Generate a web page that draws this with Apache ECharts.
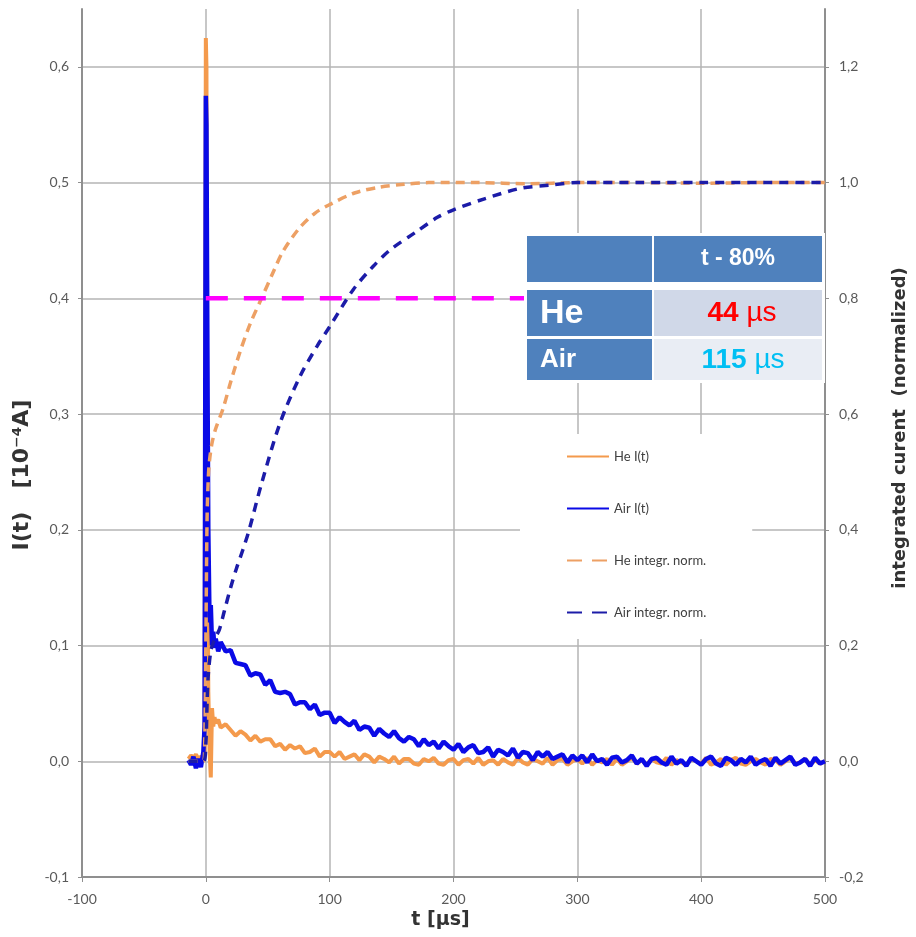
<!DOCTYPE html>
<html>
<head>
<meta charset="utf-8">
<script src="https://cdn.jsdelivr.net/npm/echarts@6/dist/echarts.min.js"></script>
<style>html,body{margin:0;padding:0;background:#fff}#c{width:916px;height:937px}</style>
</head>
<body>
<div id="c"></div>
<script>
// ---- data ----
const tCur = [-14,-12,-10,-8,-6,-4,-2,-1,0,0.5,1,1.5,2,3,4,5,6,7,8,10,
  12,16,20,24,28,32,36,40,44,48,
  52,56,60,64,68,72,76,80,84,88,
  92,96,100,104,108,112,116,120,124,128,
  132,136,140,144,148,152,156,160,164,168,
  172,176,180,184,188,192,196,200,204,208,
  212,216,220,224,228,232,236,240,244,248,
  252,256,260,264,268,272,276,280,284,288,
  292,296,300,304,308,312,316,320,324,328,
  332,336,340,344,348,352,356,360,364,368,
  372,376,380,384,388,392,396,400,404,408,
  412,416,420,424,428,432,436,440,444,448,
  452,456,460,464,468,472,476,480,484,488,
  492,496,500];
const heCur = [0.002,0.005,0.003,0.006,0.002,0.004,0.003,0.008,0.625,0.6,0.35,0.15,0.06,0.01,-0.014,0.046,0.030,0.038,0.033,0.036,
  0.029,0.032,0.027,0.022,0.026,0.023,0.018,0.022,0.017,0.019,
  0.019,0.013,0.015,0.010,0.014,0.011,0.013,0.007,0.008,0.011,
  0.004,0.008,0.008,0.004,0.008,0.002,0.004,0.006,0.001,0.006,
  0.004,-0.001,0.004,0.002,-0.001,0.004,-0.002,0.002,0.002,-0.002,
  -0.003,0.002,0.000,0.003,-0.002,-0.003,0.001,0.002,-0.003,0.001,
  0.002,-0.002,0.003,-0.003,0.000,0.001,-0.003,0.002,-0.001,-0.003,
  0.003,-0.001,-0.003,0.002,0.000,-0.002,0.003,-0.003,0.001,0.002,
  -0.003,0.000,0.002,-0.002,0.003,-0.003,0.001,-0.001,0.002,-0.003,
  0.002,-0.003,0.000,0.003,-0.002,0.001,-0.003,0.002,-0.001,-0.002,
  0.003,-0.003,0.001,-0.001,-0.003,0.002,0.000,-0.002,0.003,-0.003,
  -0.001,0.002,-0.003,0.001,0.003,-0.002,-0.003,0.000,0.002,-0.001,
  -0.003,0.002,0.001,-0.003,0.000,0.003,-0.002,-0.001,0.002,-0.003,
  0.001,-0.002,0.000];
const airCur = [0.001,-0.003,0.004,-0.006,0.002,-0.005,0.008,0.030,0.575,0.55,0.42,0.30,0.20,0.12,0.135,0.100,0.112,0.098,0.106,0.095,
  0.103,0.095,0.096,0.085,0.084,0.083,0.074,0.076,0.075,0.066,
  0.070,0.060,0.059,0.060,0.058,0.049,0.051,0.051,0.045,0.049,
  0.040,0.042,0.042,0.033,0.038,0.034,0.031,0.035,0.027,0.030,
  0.029,0.022,0.028,0.024,0.021,0.026,0.020,0.017,0.021,0.019,
  0.013,0.019,0.014,0.017,0.011,0.017,0.013,0.010,0.015,0.008,
  0.012,0.014,0.007,0.008,0.012,0.004,0.010,0.008,0.005,0.011,
  0.003,0.008,0.007,0.001,0.008,0.004,0.008,0.002,0.004,0.006,
  -0.001,0.005,0.001,0.005,-0.001,0.006,0.000,0.002,-0.003,0.003,
  0.004,-0.001,0.001,0.005,-0.002,0.002,-0.004,0.002,0.003,-0.001,
  -0.003,0.004,-0.002,0.001,-0.004,0.003,0.000,-0.003,0.002,0.004,
  -0.002,-0.004,0.003,0.001,-0.003,0.002,-0.001,0.004,-0.003,0.000,
  0.002,-0.004,0.003,-0.002,0.001,0.004,-0.003,-0.001,0.002,-0.004,
  0.003,-0.002,0.000];
const tHeInt = [-14,-2,-1,0,1,2,3,5,8,14,20,28,36,45,55,62,75,88,100,120,140,160,180,220,260,300,350,400,450,500];
const heInt  = [0,0,0.02,0.2,0.42,0.49,0.52,0.55,0.575,0.61,0.655,0.71,0.757,0.80,0.848,0.88,0.92,0.947,0.962,0.982,0.992,0.997,1.0,1.0,0.998,1.0,1.0,0.999,1.0,1.0];
const tAirInt = [-14,-2,0,1,2,4,6,8,11,15,20,25,30,35,45,60,76,90,100,119,135,149,170,187,200,225,254,280,300,350,400,450,500];
const airInt  = [0,0,0.03,0.1,0.15,0.19,0.205,0.215,0.228,0.26,0.30,0.335,0.366,0.40,0.48,0.585,0.665,0.718,0.751,0.815,0.855,0.884,0.915,0.94,0.953,0.972,0.99,0.996,1.0,1.0,1.0,1.0,1.0];
const tMark = [0, 258];
const vMark = [0.4, 0.4];
const leftTicks = [-0.1,0,0.1,0.2,0.3,0.4,0.5,0.6];
const rightTicks = [-0.2,0,0.2,0.4,0.6,0.8,1.0,1.2];
const xTicks = [-100,0,100,200,300,400,500];
const seriesNames = ['He I(t)','Air I(t)','He integr. norm.','Air integr. norm.'];
const tableHead = 't - 80%';
const tableRows = [['He','44','µs'],['Air','115','µs']];

// ---- chart ----
const pair = (ts, vs) => ts.map((t, i) => [t, vs[i]]);
const comma = v => (Math.round(v * 10) / 10).toFixed(1).replace('.', ',');
const axisGray = '#8f8f8f';
const gridGray = '#b4b4b4';
const labelStyle = {color: '#5a5a5a', fontSize: 14, fontFamily: 'Lato'};
const nameFont = {fontWeight: 'bold', color: '#333', fontFamily: 'DejaVu Sans'};

const chart = echarts.init(document.getElementById('c'));
chart.setOption({
  animation: false,
  backgroundColor: '#fff',
  grid: {left: 82, right: 91, top: 9, bottom: 60, containLabel: false, outerBoundsMode: 'none'},
  xAxis: {
    type: 'value', min: -100, max: 500, interval: 100,
    name: 't [µs]', nameLocation: 'middle', nameGap: 30,
    nameTextStyle: Object.assign({fontSize: 19, padding: [0, 26, 0, 0]}, nameFont),
    axisLine: {show: true, onZero: false, lineStyle: {color: axisGray, width: 2}},
    axisTick: {show: true, length: 5, lineStyle: {color: axisGray}},
    axisLabel: Object.assign({margin: 15, customValues: xTicks}, labelStyle),
    splitLine: {show: true, lineStyle: {color: gridGray, width: 1.5}}
  },
  yAxis: [{
    type: 'value', min: -0.1, max: 0.65, interval: 0.1, position: 'left',
    name: 'I(t)   [10⁻⁴A]', nameLocation: 'middle', nameGap: 42,
    nameTextStyle: Object.assign({fontSize: 22, padding: [0, 64, 0, 0]}, nameFont),
    axisLine: {show: true, onZero: false, lineStyle: {color: axisGray, width: 2}},
    axisTick: {show: true, length: 4, customValues: leftTicks, lineStyle: {color: axisGray}},
    axisLabel: Object.assign({margin: 13, customValues: leftTicks, formatter: comma}, labelStyle),
    splitLine: {show: true, lineStyle: {color: gridGray, width: 1.5}}
  }, {
    type: 'value', min: -0.2, max: 1.3, interval: 0.2, position: 'right',
    name: 'integrated curent  (normalized)', nameLocation: 'middle', nameGap: 66,
    nameTextStyle: Object.assign({fontSize: 18, padding: [0, 0, 0, 30]}, nameFont),
    axisLine: {show: true, onZero: false, lineStyle: {color: axisGray, width: 2}},
    axisTick: {show: true, length: 4, customValues: rightTicks, lineStyle: {color: axisGray}},
    axisLabel: Object.assign({margin: 14, customValues: rightTicks, formatter: comma}, labelStyle),
    splitLine: {show: false}
  }],
  legend: {
    orient: 'vertical', left: 520, top: 434,
    padding: [16, 46, 20, 46], itemGap: 39, itemWidth: 42, itemHeight: 14,
    backgroundColor: '#fff',
    itemStyle: {opacity: 0},
    textStyle: {color: '#404040', fontSize: 13, fontFamily: 'Lato'},
    data: [
      {name: seriesNames[0]},
      {name: seriesNames[1]},
      {name: seriesNames[2], lineStyle: {type: [15, 10]}},
      {name: seriesNames[3], lineStyle: {type: [15, 10]}}
    ]
  },
  series: [{
    name: seriesNames[0], type: 'line', yAxisIndex: 0, symbol: 'none',
    data: pair(tCur, heCur),
    lineStyle: {color: '#F49A4C', width: 4}, itemStyle: {color: '#F49A4C'}
  }, {
    name: seriesNames[1], type: 'line', yAxisIndex: 0, symbol: 'none',
    data: pair(tCur, airCur),
    lineStyle: {color: '#0A0AE6', width: 4.5}, itemStyle: {color: '#0A0AE6'}
  }, {
    name: seriesNames[2], type: 'line', yAxisIndex: 1, symbol: 'none', smooth: 0.3,
    data: pair(tHeInt, heInt),
    lineStyle: {color: '#EDA064', width: 3.5, type: [9, 6]}, itemStyle: {color: '#EDA064'}
  }, {
    name: seriesNames[3], type: 'line', yAxisIndex: 1, symbol: 'none', smooth: 0.3,
    data: pair(tAirInt, airInt),
    lineStyle: {color: '#1C1CA8', width: 3.5, type: [9, 7]}, itemStyle: {color: '#1C1CA8'}
  }, {
    name: '80%', type: 'line', yAxisIndex: 0, symbol: 'none',
    data: pair(tMark, vMark),
    lineStyle: {color: '#FF00FF', width: 4.5, type: [22, 16]}
  }],
  graphic: [
    {type: 'rect', z: 100, shape: {x: 524, y: 233, width: 301, height: 150}, style: {fill: '#fff'}},
    {type: 'rect', z: 101, shape: {x: 527, y: 236, width: 125, height: 46}, style: {fill: '#4F81BD'}},
    {type: 'rect', z: 101, shape: {x: 654, y: 236, width: 168, height: 46}, style: {fill: '#4F81BD'}},
    {type: 'rect', z: 101, shape: {x: 527, y: 290, width: 125, height: 46}, style: {fill: '#4F81BD'}},
    {type: 'rect', z: 101, shape: {x: 654, y: 290, width: 168, height: 46}, style: {fill: '#D0D8E8'}},
    {type: 'rect', z: 101, shape: {x: 527, y: 339, width: 125, height: 41}, style: {fill: '#4F81BD'}},
    {type: 'rect', z: 101, shape: {x: 654, y: 339, width: 168, height: 41}, style: {fill: '#E9EDF4'}},
    {type: 'text', z: 102, style: {x: 738, y: 259, text: tableHead, fill: '#fff', font: 'bold 23px "Liberation Sans"', textAlign: 'center', textVerticalAlign: 'middle'}},
    {type: 'text', z: 102, style: {x: 540, y: 314, text: tableRows[0][0], fill: '#fff', font: 'bold 34px "Liberation Sans"', textAlign: 'left', textVerticalAlign: 'middle'}},
    {type: 'text', z: 102, style: {x: 540, y: 360, text: tableRows[1][0], fill: '#fff', font: 'bold 26px "Liberation Sans"', textAlign: 'left', textVerticalAlign: 'middle'}},
    {type: 'text', z: 102, style: {x: 742, y: 313, text: '{a|' + tableRows[0][1] + '}{b| ' + tableRows[0][2] + '}', textAlign: 'center', textVerticalAlign: 'middle',
      rich: {a: {fill: '#FF0000', font: 'bold 28px "Liberation Sans"'}, b: {fill: '#FF0000', font: '28px "Liberation Sans"'}}}},
    {type: 'text', z: 102, style: {x: 743, y: 360, text: '{a|' + tableRows[1][1] + '}{b| ' + tableRows[1][2] + '}', textAlign: 'center', textVerticalAlign: 'middle',
      rich: {a: {fill: '#00BFF3', font: 'bold 28px "Liberation Sans"'}, b: {fill: '#00BFF3', font: '28px "Liberation Sans"'}}}}
  ]
});
</script>
</body>
</html>
